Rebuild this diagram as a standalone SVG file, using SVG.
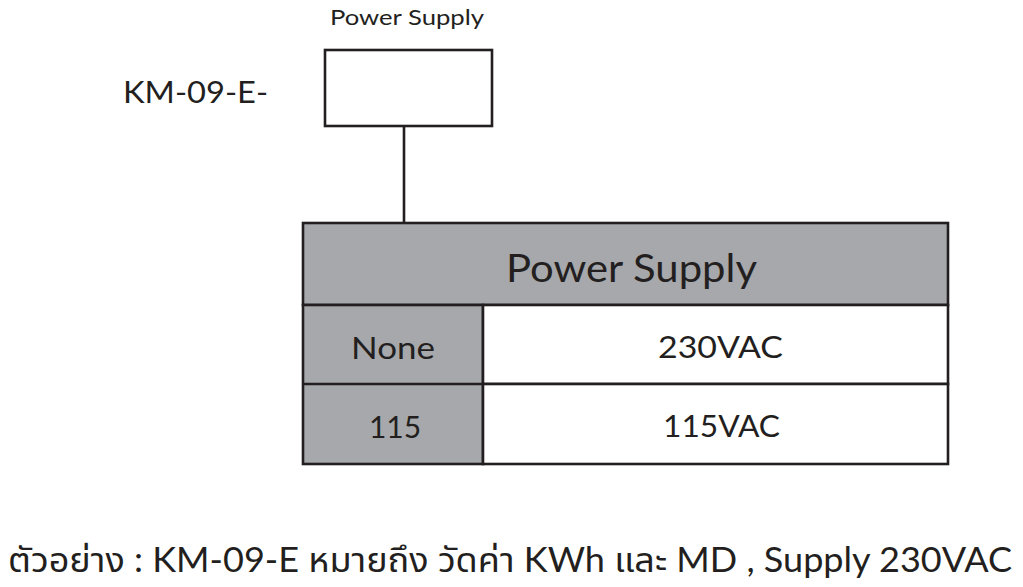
<svg xmlns="http://www.w3.org/2000/svg" width="1023" height="587" viewBox="0 0 1023 587">
<style>
.ln{stroke:#231f20;stroke-width:2.6;fill:none}
.box{fill:#ffffff;stroke:#231f20;stroke-width:2.6}
.gray{fill:#a7a8ab;stroke:#231f20;stroke-width:2.6}
.t{font-family:"Lato","Noto Sans","Noto Sans Thai","DejaVu Sans",sans-serif;fill:#231f20}
</style>
<rect width="1023" height="587" fill="#ffffff"/>
<g id="label-top">
<text class="t" x="330" y="25" font-size="22" textLength="154" lengthAdjust="spacingAndGlyphs">Power Supply</text>
</g>
<g id="label-km">
<text class="t" x="123" y="103" font-size="31" textLength="145" lengthAdjust="spacingAndGlyphs">KM-09-E-</text>
</g>
<g id="node-box">
<rect class="box" x="325" y="50" width="167" height="76"/>
</g>
<g id="connectors">
<line class="ln" x1="404" y1="126" x2="404" y2="223"/>
</g>
<g id="node-table">
<rect class="gray" x="303" y="223" width="645" height="82"/>
<rect class="gray" x="303" y="305" width="180" height="159"/>
<rect class="box" x="483" y="305" width="465" height="79"/>
<rect class="box" x="483" y="384" width="465" height="80"/>
<line class="ln" x1="303" y1="384" x2="483" y2="384"/>
<text class="t" x="506" y="282" font-size="38" textLength="251" lengthAdjust="spacingAndGlyphs">Power Supply</text>
<text class="t" x="351" y="359" font-size="30" textLength="84" lengthAdjust="spacingAndGlyphs">None</text>
<text class="t" x="395" y="438" font-size="30" text-anchor="middle">115</text>
<text class="t" x="658" y="358" font-size="30" textLength="125" lengthAdjust="spacingAndGlyphs">230VAC</text>
<text class="t" x="663" y="437" font-size="30" textLength="117" lengthAdjust="spacingAndGlyphs">115VAC</text>
</g>
<g id="caption">
<text class="t" x="8" y="572" font-size="34" textLength="1004" lengthAdjust="spacingAndGlyphs">ตัวอย่าง : KM-09-E  หมายถึง  วัดค่า KWh  และ  MD  , Supply 230VAC</text>
</g>
</svg>
